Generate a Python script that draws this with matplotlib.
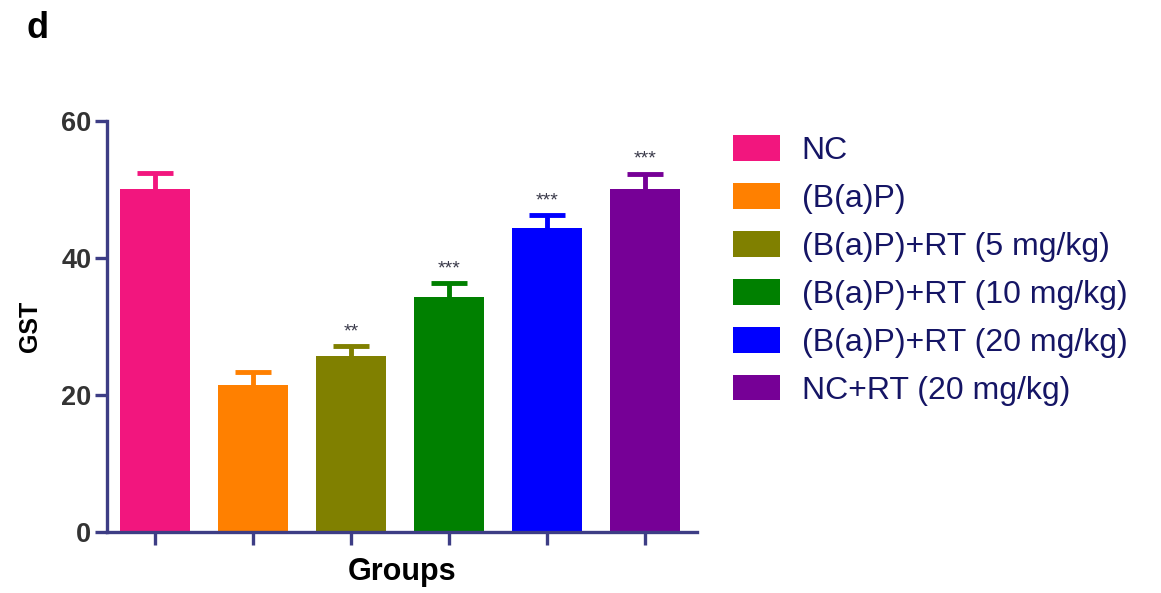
import matplotlib
matplotlib.use("Agg")
import matplotlib.pyplot as plt
from matplotlib.patches import Patch
import numpy as np

# GST activity per treatment group (mean and SEM)
groups = ["NC", "(B(a)P)", "(B(a)P)+RT (5 mg/kg)", "(B(a)P)+RT (10 mg/kg)",
          "(B(a)P)+RT (20 mg/kg)", "NC+RT (20 mg/kg)"]
gst_mean = [50.0, 21.5, 25.6, 34.3, 44.3, 50.0]
gst_sem = [2.4, 1.9, 1.5, 2.0, 2.0, 2.3]
signif = ["", "", "**", "***", "***", "***"]
colors = ["#F2167E", "#FF8000", "#808000", "#008000", "#0000FF", "#760096"]

plt.rcParams["font.family"] = ["Liberation Sans", "DejaVu Sans"]
axis_col = "#3d3d85"
text_col = "#333333"

fig = plt.figure(figsize=(11.61, 5.93), dpi=100)
ax = fig.add_axes([0.0919, 0.1034, 0.5084, 0.6926])

x = np.arange(len(groups))
ax.bar(x, gst_mean, width=0.71, color=colors, zorder=2)
# symmetric bars drawn behind the columns so only the upper half shows
for xi, m, s, c in zip(x, gst_mean, gst_sem, colors):
    ax.errorbar(xi, m, yerr=s, fmt="none", ecolor=c, elinewidth=3.5,
                capsize=13, capthick=3.5, zorder=1)

for xi, m, s, lab in zip(x, gst_mean, gst_sem, signif):
    if lab:
        ax.annotate(lab, (xi, m + s), xytext=(0, 7), textcoords="offset points",
                    ha="center", va="baseline", fontsize=14, color="#3a3a4a")

ax.set_xlim(-0.49, 5.53)
ax.set_ylim(0, 60)
ax.set_yticks([0, 20, 40, 60])
ax.set_xticks(x)
ax.set_xticklabels([])

for side in ["top", "right"]:
    ax.spines[side].set_visible(False)
for side in ["left", "bottom"]:
    ax.spines[side].set_color(axis_col)
    ax.spines[side].set_linewidth(2.4)
ax.tick_params(axis="both", direction="out", length=9, width=2.4, color=axis_col)
ax.tick_params(axis="y", labelsize=19.5, labelcolor=text_col, pad=2)
for t in ax.get_yticklabels():
    t.set_fontweight("bold")

ax.set_ylabel("GST", fontsize=18, fontweight="bold", color="black", labelpad=14)
ax.set_xlabel("Groups", fontsize=22, fontweight="bold", color="black", labelpad=6)

handles = [Patch(facecolor=c, edgecolor="none") for c in colors]
fig.legend(handles, groups, loc="upper left", bbox_to_anchor=(733 / 1161, 1 - 135 / 593),
           frameon=False, fontsize=23, labelcolor="#151565", borderpad=0,
           borderaxespad=0, handlelength=1.47, handleheight=0.87,
           handletextpad=0.68, labelspacing=0.53)

fig.text(27 / 1161, 1 - 38 / 593, "d", fontsize=26, fontweight="bold",
         color="black", ha="left", va="baseline")

fig.savefig("out.png", dpi=100, facecolor="white")
